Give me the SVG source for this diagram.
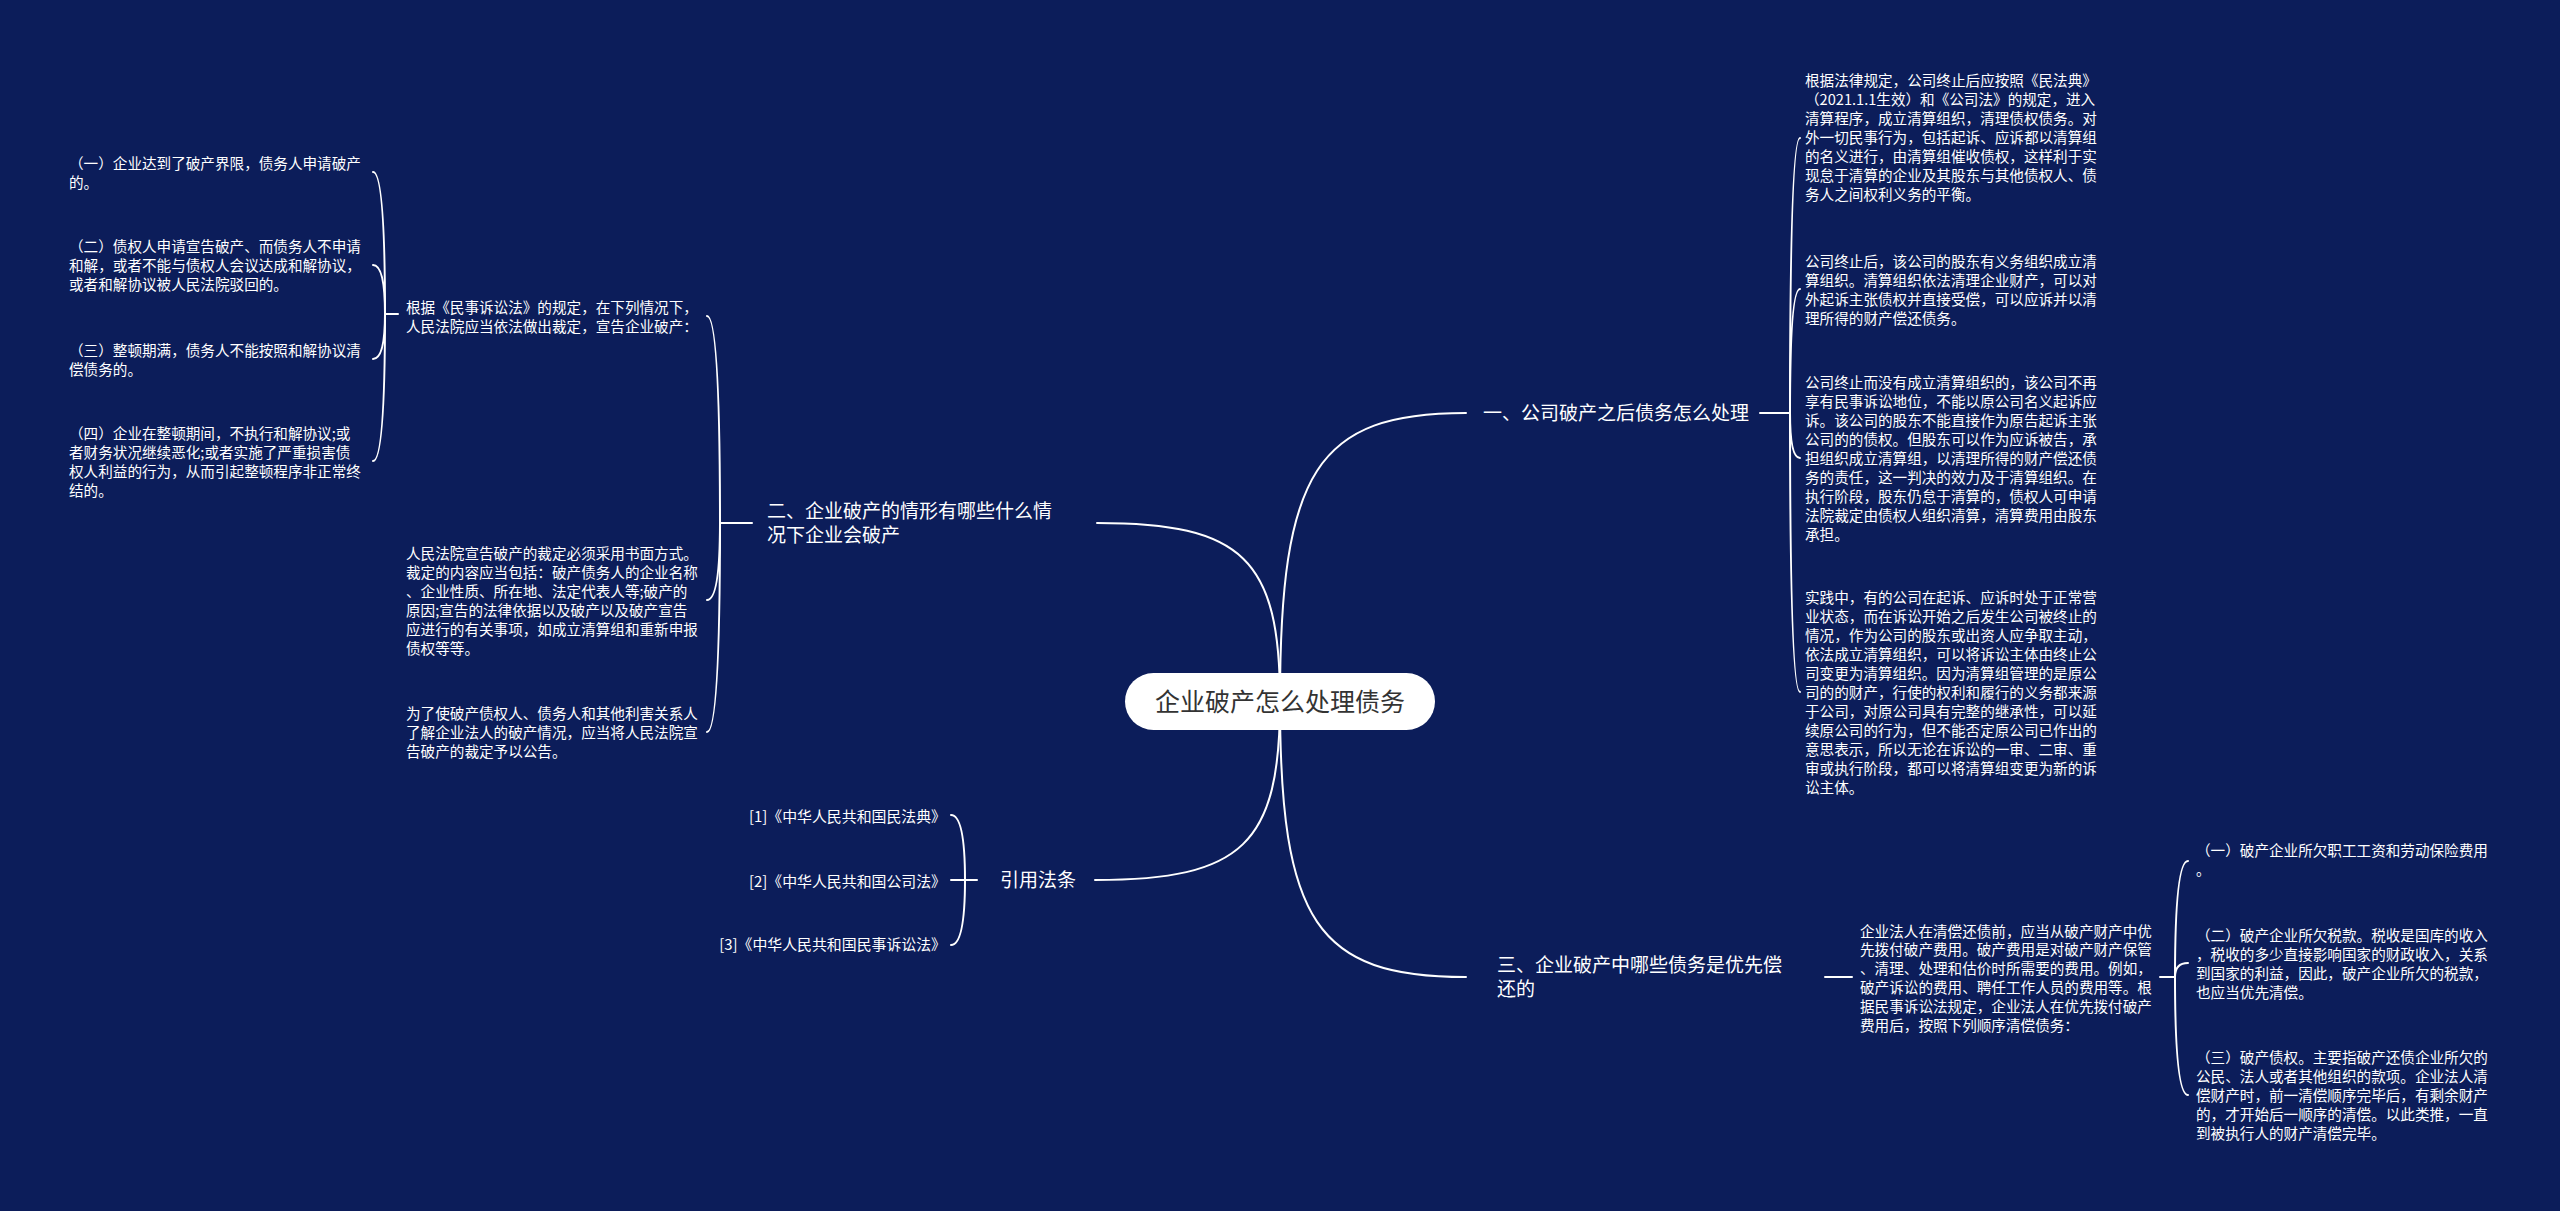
<svg xmlns="http://www.w3.org/2000/svg" width="2560" height="1211" viewBox="0 0 2560 1211">
<style>
.bg{fill:#0c1d5a}
.ln{fill:none;stroke:#ffffff;stroke-width:2;stroke-linecap:round}
.t{font-family:"Noto Sans CJK SC","Microsoft YaHei",sans-serif;font-size:14.6px;fill:#ffffff}
.r{font-family:"Noto Sans CJK SC","Microsoft YaHei",sans-serif;font-size:14.9px;fill:#ffffff}
.b{font-family:"Noto Sans CJK SC","Microsoft YaHei",sans-serif;font-size:19px;fill:#ffffff}
.c{font-family:"Noto Sans CJK SC","Microsoft YaHei",sans-serif;font-size:25px;fill:#333333}
</style>
<rect class="bg" x="0" y="0" width="2560" height="1211"/>
<g id="connectors">
<path class="ln" d="M1280,701 C1280,471 1317,413 1466,413"/>
<path class="ln" d="M1280,701 C1280,559 1243,523 1097,523"/>
<path class="ln" d="M1280,701 C1280,844 1243,880 1095,880"/>
<path class="ln" d="M1280,701 C1280,922 1317,977 1466,977"/>
<path class="ln" d="M1760,413 L1790,413"/>
<path class="ln" d="M1790,413 Q1790,138 1800,138"/>
<path class="ln" d="M1790,413 Q1790,289 1800,289"/>
<path class="ln" d="M1790,413 Q1790,458 1800,458"/>
<path class="ln" d="M1790,413 Q1790,692 1800,692"/>
<path class="ln" d="M752,523 L720,523"/>
<path class="ln" d="M720,523 Q720,316 707,316"/>
<path class="ln" d="M720,523 Q720,600 707,600"/>
<path class="ln" d="M720,523 Q720,732 707,732"/>
<path class="ln" d="M398,314 L385,314"/>
<path class="ln" d="M385,314 Q385,172 373,172"/>
<path class="ln" d="M385,314 Q385,265 373,265"/>
<path class="ln" d="M385,314 Q385,359 373,359"/>
<path class="ln" d="M385,314 Q385,461 373,461"/>
<path class="ln" d="M977,880 L965,880"/>
<path class="ln" d="M965,880 Q965,815 951,815"/>
<path class="ln" d="M965,880 L951,880"/>
<path class="ln" d="M965,880 Q965,945 951,945"/>
<path class="ln" d="M1825,977 L1852,977"/>
<path class="ln" d="M2160,977 L2175,977"/>
<path class="ln" d="M2175,977 Q2175,861 2188,861"/>
<path class="ln" d="M2175,977 Q2175,963 2188,963"/>
<path class="ln" d="M2175,977 Q2175,1095 2188,1095"/>
</g>
<g id="center">
<rect x="1125" y="673" width="310" height="57" rx="28.5" fill="#ffffff"/>
<text class="c" x="1280" y="710.5" text-anchor="middle">企业破产怎么处理债务</text>
</g>
<g id="branch1">
<text class="b" x="1483" y="420">一、公司破产之后债务怎么处理</text>
</g>
<g id="b1-n1"><text class="t" x="1805" y="86"><tspan x="1805">根据法律规定，公司终止后应按照《民法典》</tspan><tspan x="1805" dy="19">（2021.1.1生效）和《公司法》的规定，进入</tspan><tspan x="1805" dy="19">清算程序，成立清算组织，清理债权债务。对</tspan><tspan x="1805" dy="19">外一切民事行为，包括起诉、应诉都以清算组</tspan><tspan x="1805" dy="19">的名义进行，由清算组催收债权，这样利于实</tspan><tspan x="1805" dy="19">现怠于清算的企业及其股东与其他债权人、债</tspan><tspan x="1805" dy="19">务人之间权利义务的平衡。</tspan></text></g>
<g id="b1-n2"><text class="t" x="1805" y="266.5"><tspan x="1805">公司终止后，该公司的股东有义务组织成立清</tspan><tspan x="1805" dy="19">算组织。清算组织依法清理企业财产，可以对</tspan><tspan x="1805" dy="19">外起诉主张债权并直接受偿，可以应诉并以清</tspan><tspan x="1805" dy="19">理所得的财产偿还债务。</tspan></text></g>
<g id="b1-n3"><text class="t" x="1805" y="387.5"><tspan x="1805">公司终止而没有成立清算组织的，该公司不再</tspan><tspan x="1805" dy="19">享有民事诉讼地位，不能以原公司名义起诉应</tspan><tspan x="1805" dy="19">诉。该公司的股东不能直接作为原告起诉主张</tspan><tspan x="1805" dy="19">公司的的债权。但股东可以作为应诉被告，承</tspan><tspan x="1805" dy="19">担组织成立清算组，以清理所得的财产偿还债</tspan><tspan x="1805" dy="19">务的责任，这一判决的效力及于清算组织。在</tspan><tspan x="1805" dy="19">执行阶段，股东仍怠于清算的，债权人可申请</tspan><tspan x="1805" dy="19">法院裁定由债权人组织清算，清算费用由股东</tspan><tspan x="1805" dy="19">承担。</tspan></text></g>
<g id="b1-n4"><text class="t" x="1805" y="602.5"><tspan x="1805">实践中，有的公司在起诉、应诉时处于正常营</tspan><tspan x="1805" dy="19">业状态，而在诉讼开始之后发生公司被终止的</tspan><tspan x="1805" dy="19">情况，作为公司的股东或出资人应争取主动，</tspan><tspan x="1805" dy="19">依法成立清算组织，可以将诉讼主体由终止公</tspan><tspan x="1805" dy="19">司变更为清算组织。因为清算组管理的是原公</tspan><tspan x="1805" dy="19">司的的财产，行使的权利和履行的义务都来源</tspan><tspan x="1805" dy="19">于公司，对原公司具有完整的继承性，可以延</tspan><tspan x="1805" dy="19">续原公司的行为，但不能否定原公司已作出的</tspan><tspan x="1805" dy="19">意思表示，所以无论在诉讼的一审、二审、重</tspan><tspan x="1805" dy="19">审或执行阶段，都可以将清算组变更为新的诉</tspan><tspan x="1805" dy="19">讼主体。</tspan></text></g>
<g id="branch2">
<text class="b" x="767" y="518"><tspan x="767">二、企业破产的情形有哪些什么情</tspan><tspan x="767" dy="24">况下企业会破产</tspan></text>
</g>
<g id="b2-n1"><text class="t" x="406" y="312.5"><tspan x="406">根据《民事诉讼法》的规定，在下列情况下，</tspan><tspan x="406" dy="19">人民法院应当依法做出裁定，宣告企业破产：</tspan></text></g>
<g id="b2-n1-1"><text class="t" x="69" y="168.5"><tspan x="69">（一）企业达到了破产界限，债务人申请破产</tspan><tspan x="69" dy="19">的。</tspan></text></g>
<g id="b2-n1-2"><text class="t" x="69" y="251.5"><tspan x="69">（二）债权人申请宣告破产、而债务人不申请</tspan><tspan x="69" dy="19">和解，或者不能与债权人会议达成和解协议，</tspan><tspan x="69" dy="19">或者和解协议被人民法院驳回的。</tspan></text></g>
<g id="b2-n1-3"><text class="t" x="69" y="355.5"><tspan x="69">（三）整顿期满，债务人不能按照和解协议清</tspan><tspan x="69" dy="19">偿债务的。</tspan></text></g>
<g id="b2-n1-4"><text class="t" x="69" y="438.5"><tspan x="69">（四）企业在整顿期间，不执行和解协议;或</tspan><tspan x="69" dy="19">者财务状况继续恶化;或者实施了严重损害债</tspan><tspan x="69" dy="19">权人利益的行为，从而引起整顿程序非正常终</tspan><tspan x="69" dy="19">结的。</tspan></text></g>
<g id="b2-n2"><text class="t" x="406" y="558.5"><tspan x="406">人民法院宣告破产的裁定必须采用书面方式。</tspan><tspan x="406" dy="19">裁定的内容应当包括：破产债务人的企业名称</tspan><tspan x="406" dy="19">、企业性质、所在地、法定代表人等;破产的</tspan><tspan x="406" dy="19">原因;宣告的法律依据以及破产以及破产宣告</tspan><tspan x="406" dy="19">应进行的有关事项，如成立清算组和重新申报</tspan><tspan x="406" dy="19">债权等等。</tspan></text></g>
<g id="b2-n3"><text class="t" x="406" y="718.5"><tspan x="406">为了使破产债权人、债务人和其他利害关系人</tspan><tspan x="406" dy="19">了解企业法人的破产情况，应当将人民法院宣</tspan><tspan x="406" dy="19">告破产的裁定予以公告。</tspan></text></g>
<g id="branch-refs">
<text class="b" x="1000" y="887">引用法条</text>
</g>
<g id="ref1"><text class="r" x="946" y="822" text-anchor="end">[1]《中华人民共和国民法典》</text></g>
<g id="ref2"><text class="r" x="946" y="887" text-anchor="end">[2]《中华人民共和国公司法》</text></g>
<g id="ref3"><text class="r" x="946" y="950" text-anchor="end">[3]《中华人民共和国民事诉讼法》</text></g>
<g id="branch3">
<text class="b" x="1497" y="972"><tspan x="1497">三、企业破产中哪些债务是优先偿</tspan><tspan x="1497" dy="24">还的</tspan></text>
</g>
<g id="b3-n1"><text class="t" x="1860" y="936.5"><tspan x="1860">企业法人在清偿还债前，应当从破产财产中优</tspan><tspan x="1860" dy="18.8">先拨付破产费用。破产费用是对破产财产保管</tspan><tspan x="1860" dy="18.8">、清理、处理和估价时所需要的费用。例如，</tspan><tspan x="1860" dy="18.8">破产诉讼的费用、聘任工作人员的费用等。根</tspan><tspan x="1860" dy="18.8">据民事诉讼法规定，企业法人在优先拨付破产</tspan><tspan x="1860" dy="18.8">费用后，按照下列顺序清偿债务：</tspan></text></g>
<g id="b3-n1-1"><text class="t" x="2196" y="855.5"><tspan x="2196">（一）破产企业所欠职工工资和劳动保险费用</tspan><tspan x="2196" dy="19">。</tspan></text></g>
<g id="b3-n1-2"><text class="t" x="2196" y="940.5"><tspan x="2196">（二）破产企业所欠税款。税收是国库的收入</tspan><tspan x="2196" dy="19">，税收的多少直接影响国家的财政收入，关系</tspan><tspan x="2196" dy="19">到国家的利益，因此，破产企业所欠的税款，</tspan><tspan x="2196" dy="19">也应当优先清偿。</tspan></text></g>
<g id="b3-n1-3"><text class="t" x="2196" y="1062.5"><tspan x="2196">（三）破产债权。主要指破产还债企业所欠的</tspan><tspan x="2196" dy="19">公民、法人或者其他组织的款项。企业法人清</tspan><tspan x="2196" dy="19">偿财产时，前一清偿顺序完毕后，有剩余财产</tspan><tspan x="2196" dy="19">的，才开始后一顺序的清偿。以此类推，一直</tspan><tspan x="2196" dy="19">到被执行人的财产清偿完毕。</tspan></text></g>
</svg>
